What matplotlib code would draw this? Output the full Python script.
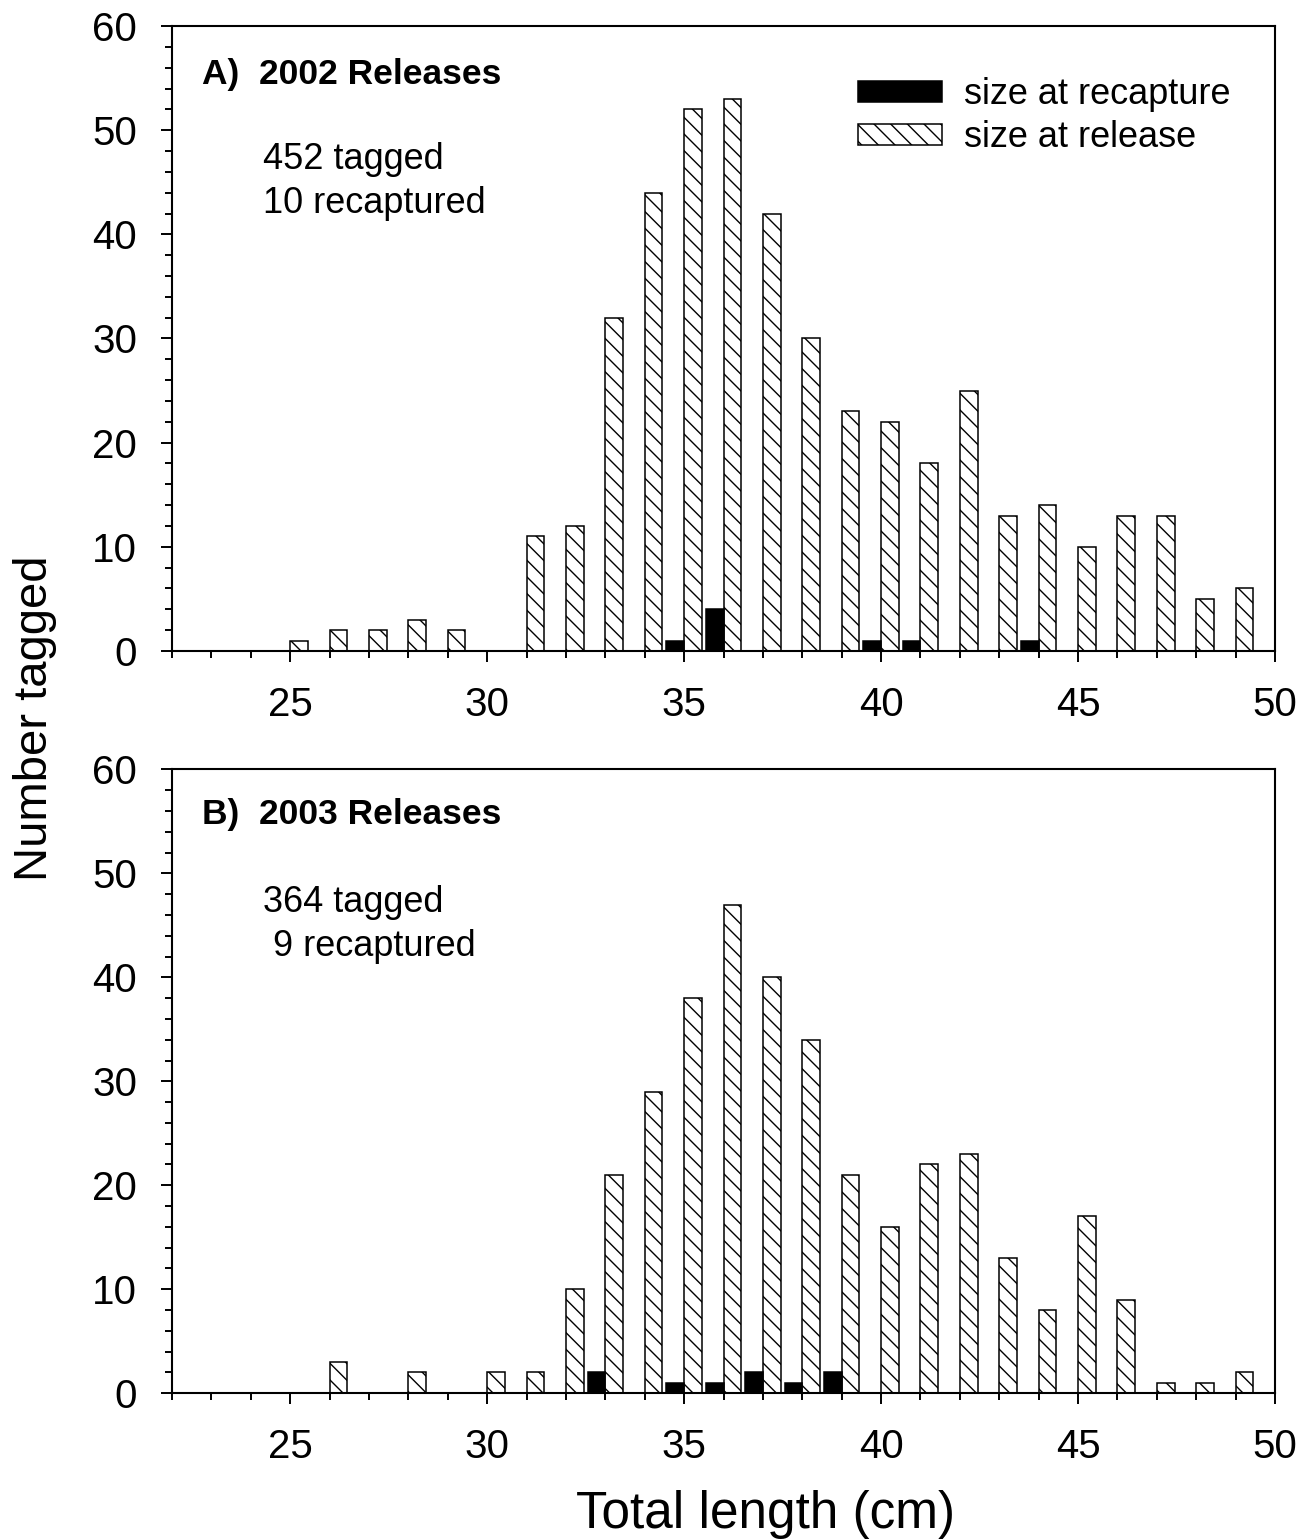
import matplotlib
matplotlib.use("Agg")
import matplotlib.pyplot as plt
from matplotlib.ticker import MultipleLocator, FixedLocator

plt.rcParams['font.family'] = ['Liberation Sans', 'DejaVu Sans']
plt.rcParams['hatch.linewidth'] = 1.0
plt.rcParams['hatch.color'] = 'black'

# ---- data ----
release_len_2002 = [25, 26, 27, 28, 29, 30, 31, 32, 33, 34, 35, 36, 37, 38, 39,
                    40, 41, 42, 43, 44, 45, 46, 47, 48, 49]
release_cnt_2002 = [1, 2, 2, 3, 2, 0, 11, 12, 32, 44, 52, 53, 42, 30, 23,
                    22, 18, 25, 13, 14, 10, 13, 13, 5, 6]
recap_len_2002 = [35, 36, 40, 41, 44]
recap_cnt_2002 = [1, 4, 1, 1, 1]

release_len_2003 = [26, 28, 30, 31, 32, 33, 34, 35, 36, 37, 38, 39, 40, 41,
                    42, 43, 44, 45, 46, 47, 48, 49]
release_cnt_2003 = [3, 2, 2, 2, 10, 21, 29, 38, 47, 40, 34, 21, 16, 22,
                    23, 13, 8, 17, 9, 1, 1, 2]
recap_len_2003 = [33, 35, 36, 37, 38, 39]
recap_cnt_2003 = [2, 1, 1, 2, 1, 2]

panel_titles = ["A)  2002 Releases", "B)  2003 Releases"]
tag_lines = [["452 tagged", "10 recaptured"], ["364 tagged", " 9 recaptured"]]
legend_labels = ["size at recapture", "size at release"]
x_major = [25, 30, 35, 40, 45, 50]

fig = plt.figure(figsize=(13.08, 15.4), dpi=100)
ax1 = fig.add_axes([0.1315, 0.5773, 0.8433, 0.4058])
ax2 = fig.add_axes([0.1315, 0.0953, 0.8433, 0.4051])

BW = 0.45
datasets = [
    (ax1, release_len_2002, release_cnt_2002, recap_len_2002, recap_cnt_2002),
    (ax2, release_len_2003, release_cnt_2003, recap_len_2003, recap_cnt_2003),
]
handles = None
for i, (ax, rl, rc, cl, cc) in enumerate(datasets):
    hb = ax.bar(rl, rc, width=BW, align='edge', facecolor='white',
                edgecolor='black', hatch='\\\\', linewidth=1.1, zorder=2)
    bb = ax.bar(cl, cc, width=-BW, align='edge', facecolor='black',
                edgecolor='black', linewidth=1.1, zorder=2)
    if i == 0:
        handles = (bb, hb)
    ax.set_xlim(22, 50)
    ax.set_ylim(0, 60)
    ax.xaxis.set_major_locator(FixedLocator(x_major))
    ax.xaxis.set_minor_locator(MultipleLocator(1))
    ax.yaxis.set_major_locator(MultipleLocator(10))
    ax.yaxis.set_minor_locator(MultipleLocator(2))
    ax.tick_params(axis='both', which='major', direction='out', length=8,
                   width=1.4, labelsize=29)
    ax.tick_params(axis='both', which='minor', direction='out', length=5,
                   width=1.4)
    ax.tick_params(axis='x', which='major', pad=17)
    ax.tick_params(axis='y', which='major', pad=17)
    ax.tick_params(top=False, right=False, which='both')
    for sp in ax.spines.values():
        sp.set_linewidth(1.5)
    ax.text(0.027, 0.907 if i == 0 else 0.913, panel_titles[i],
            transform=ax.transAxes, fontsize=25.5, fontweight='bold',
            ha='left', va='baseline')
    ax.text(0.0825, 0.771, tag_lines[i][0], transform=ax.transAxes,
            fontsize=26, ha='left', va='baseline')
    ax.text(0.0825, 0.701, tag_lines[i][1], transform=ax.transAxes,
            fontsize=26, ha='left', va='baseline')

fs = 26
ax1.legend(handles, legend_labels, loc='upper left',
           bbox_to_anchor=(0.622, 0.918), frameon=False, fontsize=fs,
           borderpad=0, borderaxespad=0, handlelength=84 / 36.1,
           handleheight=20 / 36.1, handletextpad=0.6, labelspacing=0.22)

fig.text(0.027, 0.5338, "Number tagged", rotation=90, fontsize=34,
         ha='center', va='center')
fig.text(0.5856, 0.0078, "Total length (cm)", fontsize=37,
         ha='center', va='baseline')

fig.savefig("out.png", dpi=100)
